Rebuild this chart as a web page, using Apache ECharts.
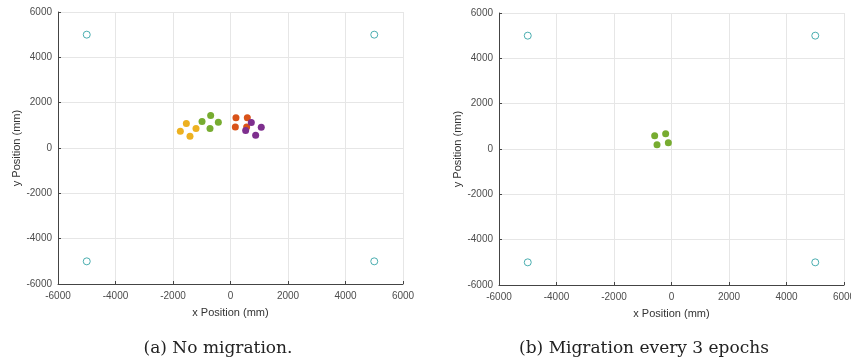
<!DOCTYPE html>
<html><head><meta charset="utf-8">
<script src="https://cdn.jsdelivr.net/npm/echarts@6/dist/echarts.min.js"></script>
<style>html,body{margin:0;padding:0;background:#fff}#c{width:851px;height:363px}</style>
</head><body><div id="c"></div>
<script>
// Panel (a): No migration
const anchorsA = [[-5000, 5000], [5000, 5000], [-5000, -5000], [5000, -5000]];
const yellowA = [[-1745, 740], [-1536, 1080], [-1200, 860], [-1409, 520]];
const greenA = [[-990, 1165], [-690, 1430], [-423, 1140], [-713, 860]];
const orangeA = [[190, 1340], [585, 1330], [168, 930], [562, 930]];
const purpleA = [[724, 1120], [1070, 918], [527, 770], [875, 565]];
// Panel (b): Migration every 3 epochs
const anchorsB = [[-5000, 5000], [5000, 5000], [-5000, -5000], [5000, -5000]];
const greenB = [[-585, 580], [-203, 668], [-504, 184], [-110, 272]];
const ticks = [-6000, -4000, -2000, 0, 2000, 4000, 6000];
const xLabel = 'x Position (mm)';
const yLabel = 'y Position (mm)';
const captions = ['(a) No migration.', '(b) Migration every 3 epochs'];

const labelStyle = {fontFamily: 'Liberation Sans', fontSize: 10, color: '#4d4d4d', formatter: v => String(v)};
function xAx(i) {
  return {gridIndex: i, type: 'value', min: ticks[0], max: ticks[ticks.length-1], interval: 2000,
    name: xLabel, nameLocation: 'middle', nameGap: 23,
    nameTextStyle: {fontFamily: 'Liberation Sans', fontSize: 11, color: '#333'},
    axisLine: {show: true, onZero: false, lineStyle: {color: '#444', width: 1}},
    axisTick: {show: true, inside: true, length: 3, lineStyle: {color: '#444'}},
    axisLabel: Object.assign({margin: 7}, labelStyle),
    splitLine: {show: true, lineStyle: {color: '#e6e6e6', width: 1}}};
}
function yAx(i) {
  return {gridIndex: i, type: 'value', min: ticks[0], max: ticks[ticks.length-1], interval: 2000,
    name: yLabel, nameLocation: 'middle', nameGap: 34,
    nameTextStyle: {fontFamily: 'Liberation Sans', fontSize: 11, color: '#333'},
    axisLine: {show: true, onZero: false, lineStyle: {color: '#444', width: 1}},
    axisTick: {show: true, inside: true, length: 3, lineStyle: {color: '#444'}},
    axisLabel: Object.assign({margin: 6}, labelStyle),
    splitLine: {show: true, lineStyle: {color: '#e6e6e6', width: 1}}};
}
function dots(i, data, color) {
  return {type: 'scatter', xAxisIndex: i, yAxisIndex: i, data: data, symbol: 'circle', symbolSize: 7,
    itemStyle: {color: color, opacity: 1}, silent: true};
}
function anchors(i, data) {
  return {type: 'scatter', xAxisIndex: i, yAxisIndex: i, data: data, symbol: 'circle', symbolSize: 7,
    itemStyle: {color: '#ffffff', borderColor: '#4aaeb0', borderWidth: 1, opacity: 1}, silent: true};
}
const chart = echarts.init(document.getElementById('c'), null, {renderer: 'canvas'});
chart.setOption({
  animation: false,
  backgroundColor: '#fff',
  title: [
    {text: captions[0], left: 213, top: 335, textAlign: 'center', textStyle: {fontFamily: 'DejaVu Serif', fontSize: 17, fontWeight: 'normal', color: '#222'}},
    {text: captions[1], left: 639, top: 335, textAlign: 'center', textStyle: {fontFamily: 'DejaVu Serif', fontSize: 17, fontWeight: 'normal', color: '#222'}}
  ],
  grid: [
    {left: 58, top: 12, width: 345, height: 272, outerBoundsMode: 'none', containLabel: false},
    {left: 499, top: 13, width: 345, height: 272, outerBoundsMode: 'none', containLabel: false}
  ],
  xAxis: [xAx(0), xAx(1)],
  yAxis: [yAx(0), yAx(1)],
  series: [
    anchors(0, anchorsA),
    dots(0, yellowA, '#EDB120'),
    dots(0, greenA, '#77AC30'),
    dots(0, orangeA, '#D95319'),
    dots(0, purpleA, '#7E2F8E'),
    anchors(1, anchorsB),
    dots(1, greenB, '#77AC30')
  ]
});
</script></body></html>
